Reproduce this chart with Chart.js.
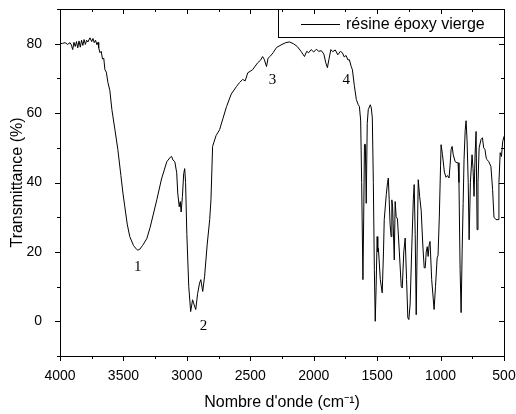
<!DOCTYPE html>
<html>
<head>
<meta charset="utf-8">
<script src="https://cdn.jsdelivr.net/npm/chart.js@4.4.0/dist/chart.umd.min.js"></script>
<style>
  html, body { margin: 0; padding: 0; background: #fff; }
  #wrap { width: 516px; height: 414px; }
</style>
</head>
<body>
<div id="wrap"><canvas id="ftirChart" width="516" height="414"></canvas></div>
<script>
// Spectrum (wavenumber in cm-1, transmittance in %)
const wavenumbers = [
  4000, 3980, 3960, 3940, 3921, 3910, 3900, 3890, 3880, 3870, 3860, 3850, 3840, 3830, 3820, 3810,
  3800, 3790, 3780, 3764, 3750, 3740, 3730, 3720, 3709, 3700, 3695, 3685, 3675, 3665, 3655, 3646,
  3635, 3622, 3607, 3591, 3567, 3544, 3520, 3504, 3489, 3470, 3450, 3420, 3395, 3387, 3370, 3350,
  3316, 3290, 3260, 3237, 3200, 3158, 3130, 3120, 3110, 3095, 3080, 3072, 3060, 3052, 3045, 3035,
  3025, 3017, 3010, 3000, 2985, 2970, 2955, 2945, 2930, 2915, 2900, 2890, 2875, 2860, 2840, 2820,
  2810, 2797, 2770, 2742, 2715, 2687, 2650, 2608, 2585, 2560, 2540, 2520, 2482, 2442, 2420, 2403,
  2390, 2372, 2360, 2340, 2320, 2293, 2250, 2220, 2191, 2160, 2130, 2100, 2073, 2055, 2040, 2020,
  2000, 1980, 1960, 1940, 1920, 1905, 1892, 1880, 1865, 1850, 1830, 1810, 1790, 1774, 1760, 1745,
  1730, 1719, 1705, 1695, 1680, 1664, 1650, 1640, 1630, 1622, 1612, 1606, 1600, 1593, 1586, 1578,
  1570, 1554, 1546, 1538, 1530, 1522, 1515, 1508, 1500, 1495, 1490, 1475, 1460, 1450, 1444, 1428,
  1418, 1412, 1405, 1398, 1390, 1384, 1378, 1365, 1358, 1350, 1340, 1325, 1310, 1302, 1290, 1279,
  1268, 1258, 1250, 1240, 1228, 1215, 1208, 1200, 1192, 1185, 1176, 1165, 1153, 1140, 1129, 1121,
  1113, 1105, 1098, 1090, 1083, 1070, 1051, 1040, 1027, 1020, 1010, 1000, 996, 985, 970, 957,
  945, 933, 925, 917, 909, 900, 885, 870, 862, 855, 846, 838, 830, 822, 815, 806,
  799, 791, 782, 775, 765, 752, 744, 736, 728, 720, 712, 705, 696, 681, 670, 660,
  650, 640, 634, 620, 603, 590, 579, 563, 547, 540, 530, 520, 510, 500
];
const transmittance = [
  80.0, 80.1, 80.3, 79.8, 80.3, 79.6, 78.3, 80.4, 79.2, 80.6, 78.8, 80.8, 79.0, 81.0, 79.5, 81.2,
  79.8, 81.0, 80.5, 81.7, 80.6, 81.5, 80.3, 81.0, 79.7, 80.4, 78.8, 77.4, 77.8, 75.6, 75.8, 72.5,
  71.8, 68.8, 66.5, 61.0, 55.2, 49.5, 42.0, 37.0, 33.0, 28.0, 24.4, 21.8, 20.7, 20.5, 20.8, 21.8,
  23.8, 27.0, 31.5, 35.0, 41.0, 46.0, 47.3, 47.5, 46.5, 46.0, 42.8, 37.0, 33.0, 34.5, 31.5, 36.0,
  42.5, 44.0, 40.0, 25.0, 10.0, 2.8, 6.2, 5.0, 3.4, 8.0, 11.0, 12.0, 8.6, 13.0, 22.0, 29.3,
  35.0, 50.4, 53.5, 55.2, 58.5, 61.9, 65.5, 67.7, 68.8, 69.7, 69.3, 71.6, 72.5, 74.5, 75.2, 76.3,
  75.5, 73.4, 75.8, 76.5, 77.4, 78.9, 79.8, 80.3, 80.5, 80.0, 79.2, 77.8, 76.3, 77.8, 77.4, 78.3,
  77.6, 78.4, 77.8, 78.0, 77.0, 74.5, 73.1, 75.5, 78.3, 77.7, 78.2, 76.8, 77.8, 77.4, 76.2, 76.6,
  75.3, 75.4, 73.5, 72.5, 68.0, 63.9, 62.5, 61.9, 58.0, 40.0, 12.0, 30.0, 51.0, 51.0, 34.0, 57.0,
  61.0, 62.4, 61.5, 58.6, 40.0, 15.0, 0.0, 10.0, 24.4, 20.0, 21.0, 12.0, 8.2, 20.0, 29.3, 36.5,
  40.0, 41.3, 35.0, 28.0, 24.4, 35.0, 33.0, 17.7, 34.5, 30.2, 29.5, 20.0, 10.0, 9.6, 20.0, 24.0,
  12.0, 1.0, 0.5, 5.0, 20.0, 35.0, 39.4, 25.0, 1.9, 20.0, 40.8, 36.0, 32.0, 22.0, 15.4, 15.4,
  20.0, 21.5, 18.7, 22.0, 23.0, 12.0, 3.4, 10.0, 18.3, 19.0, 30.0, 45.0, 50.9, 48.0, 43.0, 41.5,
  42.0, 41.3, 45.0, 49.5, 50.4, 48.0, 46.0, 45.7, 45.7, 40.0, 15.0, 2.5, 20.0, 34.0, 46.6, 55.0,
  57.8, 52.0, 40.0, 23.5, 40.0, 48.0, 44.0, 36.0, 48.0, 54.7, 26.4, 40.0, 50.0, 52.4, 52.9, 50.0,
  49.5, 47.0, 46.6, 46.0, 44.6, 38.0, 30.0, 29.3, 29.3, 40.0, 48.6, 47.5, 51.8, 53.3
];

// Band labels 1..4 placed at (wavenumber, transmittance)
const bandNames = ['1', '2', '3', '4'];
const bandWn = [3387, 2868, 2325, 1743];
const bandT = [15.5, -1.5, 69.5, 69.5];

const xTicks = [4000, 3500, 3000, 2500, 2000, 1500, 1000, 500];
const yTicks = [0, 20, 40, 60, 80];

const seriesLabel = 'résine époxy vierge';

const spectrum = wavenumbers.map((w, i) => ({ x: w, y: transmittance[i] }));

const axisFont = { family: '"Liberation Sans", Arial, sans-serif', size: 14 };
const titleFont = { family: '"Liberation Sans", Arial, sans-serif', size: 16 };

// Draws the frame, tick marks (outside on left/bottom, inside on top/right),
// the band numbers and the boxed legend
const framePlugin = {
  id: 'frame',
  afterDraw(chart) {
    const c = chart.ctx;
    const a = chart.chartArea;
    const xs = chart.scales.x;
    const ys = chart.scales.y;
    c.save();
    c.strokeStyle = '#000';
    c.lineWidth = 1;
    c.strokeRect(Math.round(a.left) + 0.5, Math.round(a.top) + 0.5,
      Math.round(a.right - a.left), Math.round(a.bottom - a.top));

    c.beginPath();
    for (let v = 500; v <= 4000; v += 250) {
      const px = Math.round(xs.getPixelForValue(v)) + 0.5;
      const len = v % 500 === 0 ? 5 : 3;
      c.moveTo(px, a.bottom); c.lineTo(px, a.bottom + len);
      c.moveTo(px, a.top); c.lineTo(px, a.top + len);
    }
    for (let v = -10; v <= 90; v += 10) {
      const py = Math.round(ys.getPixelForValue(v)) + 0.5;
      const len = v % 20 === 0 ? 5 : 3;
      c.moveTo(a.left, py); c.lineTo(a.left - len, py);
      c.moveTo(a.right, py); c.lineTo(a.right - len, py);
    }
    c.stroke();

    // band numbers
    c.fillStyle = '#000';
    c.font = '15px "Liberation Serif", "Times New Roman", serif';
    c.textAlign = 'center';
    c.textBaseline = 'middle';
    bandNames.forEach((n, i) => {
      c.fillText(n, xs.getPixelForValue(bandWn[i]), ys.getPixelForValue(bandT[i]));
    });

    // legend box in the top-right corner
    const boxL = 278.5, boxT = Math.round(a.top) + 0.5;
    const boxR = Math.round(a.right) + 0.5, boxB = 37.5;
    c.strokeRect(boxL, boxT, boxR - boxL, boxB - boxT);
    const midY = (boxT + boxB) / 2;
    c.beginPath();
    c.moveTo(301, Math.round(midY) + 0.5);
    c.lineTo(340, Math.round(midY) + 0.5);
    c.stroke();
    c.font = '16px "Liberation Sans", Arial, sans-serif';
    c.textAlign = 'left';
    c.fillText(seriesLabel, 346, midY + 1);
    c.restore();
  }
};

const ctx = document.getElementById('ftirChart').getContext('2d');
const ftirChart = new Chart(ctx, {
  type: 'line',
  data: {
    datasets: [{
      label: seriesLabel,
      data: spectrum,
      borderColor: '#000',
      borderWidth: 1,
      pointRadius: 0,
      tension: 0,
      fill: false
    }]
  },
  options: {
    responsive: false,
    animation: false,
    layout: { padding: { left: 0, right: 12, top: 9, bottom: 0 } },
    plugins: {
      legend: { display: false },
      tooltip: { enabled: false }
    },
    scales: {
      x: {
        type: 'linear',
        reverse: true,
        min: 500,
        max: 4000,
        afterBuildTicks: (axis) => { axis.ticks = xTicks.map(v => ({ value: v })); },
        afterFit: (axis) => {
          axis.height = 58;
          axis.paddingLeft = 0;
          axis.paddingRight = 0;
        },
        ticks: {
          color: '#000',
          font: axisFont,
          padding: 4,
          maxRotation: 0,
          autoSkip: false,
          callback: (v) => String(v)
        },
        grid: { display: false },
        border: { display: false },
        title: {
          display: true,
          text: "Nombre d'onde (cm⁻¹)",
          color: '#000',
          font: titleFont,
          padding: { top: 4, bottom: 2 }
        }
      },
      y: {
        min: -10,
        max: 90,
        afterBuildTicks: (axis) => { axis.ticks = yTicks.map(v => ({ value: v })); },
        afterFit: (axis) => {
          axis.width = 60;
          axis.paddingTop = 0;
          axis.paddingBottom = 0;
        },
        ticks: {
          color: '#000',
          font: axisFont,
          padding: 10,
          callback: (v) => String(v)
        },
        grid: { display: false },
        border: { display: false },
        title: {
          display: true,
          text: 'Transmittance (%)',
          color: '#000',
          font: titleFont,
          padding: { top: 8, bottom: 4 }
        }
      }
    }
  },
  plugins: [framePlugin]
});
</script>
</body>
</html>
